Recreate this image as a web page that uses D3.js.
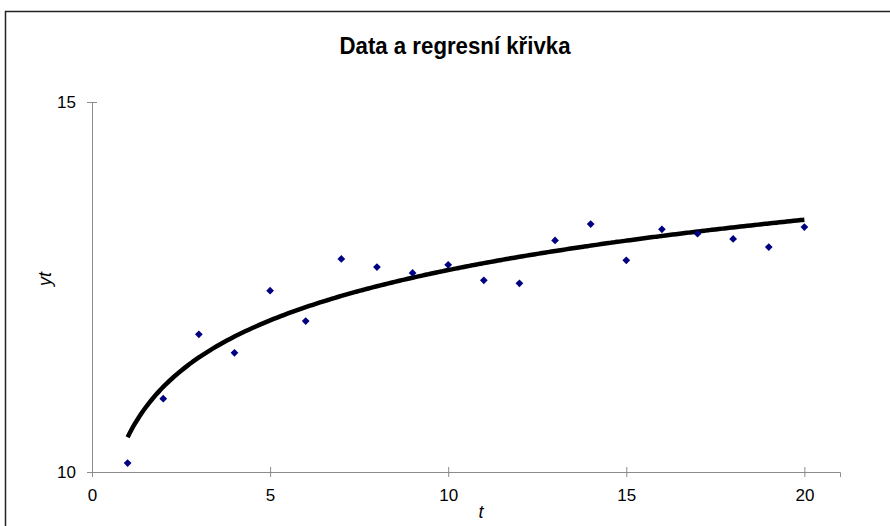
<!DOCTYPE html>
<html>
<head>
<meta charset="utf-8">
<script src="https://cdn.jsdelivr.net/npm/d3@7"></script>
<style>
  body { margin: 0; background: #fff; }
  text { font-family: "Liberation Sans", Arial, sans-serif; }
</style>
</head>
<body>
<div id="chart"></div>
<script>
// observed data
var tValues = [1, 2, 3, 4, 5, 6, 7, 8, 9, 10, 11, 12, 13, 14, 15, 16, 17, 18, 19, 20];
var yValues = [10.12, 10.99, 11.86, 11.61, 12.45, 12.04, 12.88, 12.77, 12.69, 12.80,
               12.59, 12.55, 13.13, 13.35, 12.86, 13.28, 13.22, 13.15, 13.04, 13.31];
// regression curve y = a + b*ln(t), coefficients
var regA = 10.47;
var regB = 0.981;
var xTicks = [0, 5, 10, 15, 20];
var yTicks = [10, 15];

var w = 890, h = 526;

var svg = d3.select("#chart").append("svg")
    .attr("width", w)
    .attr("height", h);

// outer frame (cut off on the right and bottom)
svg.append("rect")
    .attr("x", 5.5).attr("y", 11.5)
    .attr("width", 950).attr("height", 600)
    .attr("fill", "none")
    .attr("stroke", "#222")
    .attr("stroke-width", 1.5);

var x = d3.scaleLinear().domain([0, 21]).range([92, 840]);
var y = d3.scaleLinear().domain([10, 15]).range([472, 102]);

var xAxis = svg.append("g")
    .attr("transform", "translate(0," + y(10) + ")")
    .call(d3.axisBottom(x).tickValues(xTicks).tickSizeOuter(0).tickSize(5).tickFormat(d3.format("d")));

var yAxis = svg.append("g")
    .attr("transform", "translate(" + x(0) + ",0)")
    .call(d3.axisLeft(y).tickValues(yTicks).tickSizeOuter(0).tickSize(5).tickFormat(d3.format("d")));

// cross tick marks, grey axis lines
[xAxis, yAxis].forEach(function (g) {
    g.select(".domain").attr("stroke", "#8c8c8c");
    g.selectAll(".tick line").attr("stroke", "#8c8c8c");
    g.selectAll(".tick text").attr("fill", "#000").style("font-size", "17px");
});
xAxis.selectAll(".tick line").attr("y1", -5).attr("y2", 5);
xAxis.selectAll(".tick text").attr("y", 16.5);
yAxis.selectAll(".tick line").attr("x1", -5).attr("x2", 5);
yAxis.selectAll(".tick text").attr("x", -16);

// regression curve
var curveT = d3.range(1, 20.01, 0.1);
var line = d3.line()
    .x(function (t) { return x(t); })
    .y(function (t) { return y(regA + regB * Math.log(t)); })
    .curve(d3.curveMonotoneX);

svg.append("path")
    .datum(curveT)
    .attr("d", line)
    .attr("fill", "none")
    .attr("stroke", "#000")
    .attr("stroke-width", 4.5);

// data points (diamonds)
svg.selectAll(".pt")
    .data(tValues)
    .join("path")
    .attr("class", "pt")
    .attr("d", d3.symbol().type(d3.symbolSquare).size(30))
    .attr("transform", function (d, i) { return "translate(" + x(d) + "," + y(yValues[i]) + ") rotate(45)"; })
    .attr("fill", "#000080");

// title and axis labels
svg.append("text")
    .attr("x", 455).attr("y", 54)
    .attr("text-anchor", "middle")
    .attr("textLength", 231)
    .attr("lengthAdjust", "spacingAndGlyphs")
    .style("font-size", "23px")
    .style("font-weight", "bold")
    .text("Data a regresní křivka");

svg.append("text")
    .attr("x", 481).attr("y", 518)
    .attr("text-anchor", "middle")
    .style("font-size", "18px")
    .style("font-style", "italic")
    .text("t");

svg.append("text")
    .attr("transform", "translate(51,279) rotate(-90)")
    .attr("text-anchor", "middle")
    .style("font-size", "18px")
    .style("font-style", "italic")
    .text("yt");
</script>
</body>
</html>
